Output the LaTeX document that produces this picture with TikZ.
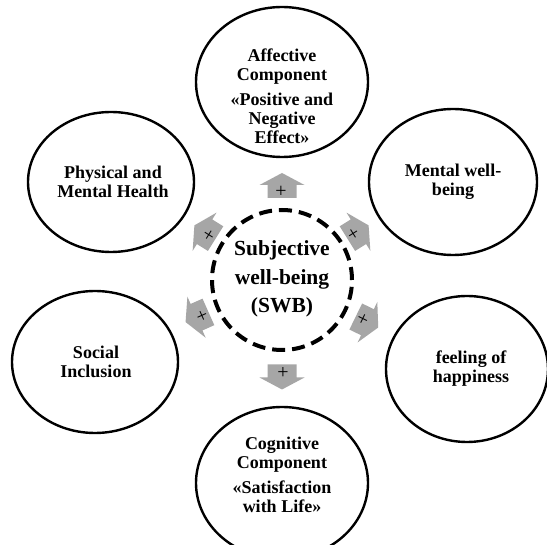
\documentclass[tikz,border=0pt]{standalone}
\usepackage{fontspec}
\setmainfont{Liberation Serif}
\usetikzlibrary{shapes.geometric}
\definecolor{arrowgray}{HTML}{A6A6A6}
\tikzset{
  bubble/.style={draw, ellipse, line width=2.4pt, inner sep=0pt},
  btext/.style={align=center, font=\fontsize{18}{19}\selectfont\bfseries, inner sep=0pt},
  plussign/.style={font=\fontsize{20}{20}\selectfont, inner sep=0pt},
  hub/.style={draw, circle, line width=4pt, dash pattern=on 13pt off 7pt, minimum size=140pt, inner sep=0pt},
  hubtext/.style={align=center, font=\fontsize{21.5}{28.5}\selectfont\bfseries, inner sep=0pt},
}
\newcommand\blockarrow[4]{%
  \begin{scope}[shift={(#2,#3)}, rotate=#4]
    \fill[arrowgray] (-12.5,-14.5) -- (0.5,-14.5) -- (0.5,-22.5) -- (12.5,0) -- (0.5,22.5) -- (0.5,14.5) -- (-12.5,14.5) -- cycle;
    \node[plussign, rotate=#4] (#1) at (-5,0) {+};
  \end{scope}}
\begin{document}
\begin{tikzpicture}[x=1pt,y=1pt]
  \useasboundingbox (0,0) rectangle (547,-545);
  \clip (0,0) rectangle (547,-545);
  \fill[white] (0,0) rectangle (547,-545);

  % centre
  \node[hub] (swb) at (282,-280) {};
  \node[hubtext] (swbText) at (282,-279) {Subjective\\well-being\\(SWB)};

  % ellipses
  \node[bubble, minimum width=172pt, minimum height=150pt] (aff) at (282,-82) {};
  \node[btext] (affText) at (282,-96.5) {Affective\\Component\\[6pt]«Positive and\\Negative\\Effect»};

  \node[bubble, minimum width=166pt, minimum height=140pt] (phys) at (111,-182) {};
  \node[btext] (physText) at (113,-182) {Physical and\\Mental Health};

  \node[bubble, minimum width=168pt, minimum height=146pt] (ment) at (453,-182) {};
  \node[btext] (mentText) at (453,-182) {Mental well-\\being};

  \node[bubble, minimum width=166pt, minimum height=142pt] (soc) at (95,-362) {};
  \node[btext] (socText) at (96,-362) {Social\\Inclusion};

  \node[bubble, minimum width=162pt, minimum height=146pt] (feel) at (467,-369) {};
  \node[btext] (feelText) at (471,-369) {feeling of\\happiness};

  \node[bubble, minimum width=172pt, minimum height=152pt] (cog) at (282,-483) {};
  \node[btext] (cogText) at (282,-475) {Cognitive\\Component\\[6pt]«Satisfaction\\with Life»};

  % arrows
  \blockarrow{pT}{282}{-185.5}{90}
  \blockarrow{pUL}{205}{-232}{148}
  \blockarrow{pUR}{358}{-232}{32}
  \blockarrow{pLL}{197}{-317}{-156}
  \blockarrow{pLR}{367}{-322}{-26}
  \blockarrow{pB}{282}{-377}{-90}
\end{tikzpicture}
\end{document}
